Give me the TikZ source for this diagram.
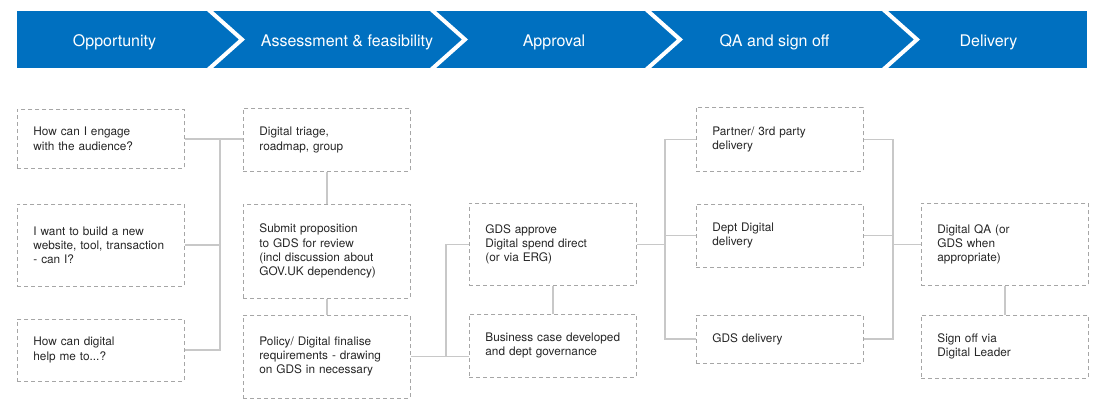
\documentclass[tikz,border=0pt]{standalone}
\usepackage{fontspec}
\setmainfont{TeX Gyre Heros}
\usetikzlibrary{positioning}
\definecolor{bannerblue}{HTML}{0070C0}
\definecolor{dashgray}{HTML}{A6A6A6}
\definecolor{linkgray}{HTML}{C8C8C8}
\definecolor{textgray}{HTML}{262626}
\tikzset
{
    stepbox/.style = {rectangle, draw=dashgray, line width=0.8pt, dash pattern=on 4pt off 3pt, anchor=north west, align=left, text width=135pt, inner xsep=16pt, inner ysep=0pt, minimum height=#1, text=textgray, font=\fontsize{11.8}{14.3}\selectfont},
    stepbox/.default = 60pt,
    phase/.style   = {text=white, anchor=base, font=\fontsize{16}{19}\selectfont},
    link/.style    = {draw=linkgray, line width=1.5pt},
    chevron/.style = {draw=white, line width=4pt, line join=miter}
}

\begin{document}
\begin{tikzpicture}[x=1pt, y=-1pt]
	\useasboundingbox (0,0) rectangle (1098,410);

	% phase banner
	\fill [bannerblue] (17,11) rectangle (1087,68);
	\begin{scope}
		\clip (17,11) rectangle (1087,68);
		\foreach \x in {210,433,648,885}
			\draw [chevron] (\x-5.6,6) -- (\x+32,39.5) -- (\x-5.6,73);
	\end{scope}
	\node (h1) [phase] at (114.5,46) {Opportunity};
	\node (h2) [phase] at (347,46) {Assessment \& feasibility};
	\node (h3) [phase] at (554,46) {Approval};
	\node (h4) [phase] at (774.5,46) {QA and sign off};
	\node (h5) [phase] at (988.5,46) {Delivery};

	\node (q1) [stepbox=59pt] at (17,109) {How can I engage\\with the audience?};
	\node (q2) [stepbox=82pt, below=35pt of q1] {I want to build a new\\website, tool, transaction\\- can I?};
	\node (q3) [stepbox=62pt, below=32pt of q2] {How can digital\\help me to...?};
	\node (a1) [stepbox=63pt] at (243,108) {Digital triage,\\roadmap, group};
	\node (a2) [stepbox=94pt, below=32pt of a1] {Submit proposition\\to GDS for review\\(incl discussion about\\GOV.UK dependency)};
	\node (a3) [stepbox=83pt, below=16pt of a2] {Policy/ Digital finalise\\requirements - drawing\\on GDS in necessary};
	\node (g1) [stepbox=82pt] at (469,203) {GDS approve\\Digital spend direct\\(or via ERG)};
	\node (g2) [stepbox=63pt, below=28pt of g1] {Business case developed\\and dept governance};
	\node (d1) [stepbox=64pt] at (696,107) {Partner/ 3rd party\\delivery};
	\node (d2) [stepbox=63pt, below=32pt of d1] {Dept Digital\\delivery};
	\node (d3) [stepbox=48pt, below=47pt of d2] {GDS delivery};
	\node (s1) [stepbox=82pt] at (921,203) {Digital QA (or\\GDS when\\appropriate)};
	\node (s2) [stepbox=63pt, below=29pt of s1] {Sign off via\\Digital Leader};

	\coordinate (bus1) at (220,0);
	\coordinate (bus2) at (446,0);
	\coordinate (bus3) at (665,0);
	\coordinate (bus4) at (893,0);

	\draw [link] (q1.east) -- (q1.east -| a1.west);
	\draw [link] (q2.east) -- (q2.east -| bus1);
	\draw [link] (q3.east) -| (q1.east -| bus1);
	\draw [link] (a1) -- (a2);
	\draw [link] (a2) -- (a3);
	\draw [link] (a3.east) -- (a3.east -| g2.west);
	\draw [link] (a3.east -| bus2) |- (g1.west);
	\draw [link] (g1) -- (g2);
	\draw [link] (g1.east) -- (g1.east -| bus3);
	\draw [link] (d1.west) -| (d3.west -| bus3) -- (d3.west);
	\draw [link] (d2.west) -- (d2.west -| bus3);
	\draw [link] (d1.east) -| (d3.east -| bus4) -- (d3.east);
	\draw [link] (d2.east) -- (d2.east -| bus4);
	\draw [link] (s1.west -| bus4) -- (s1.west);
	\draw [link] (s1) -- (s2);

\end{tikzpicture}
\end{document}
